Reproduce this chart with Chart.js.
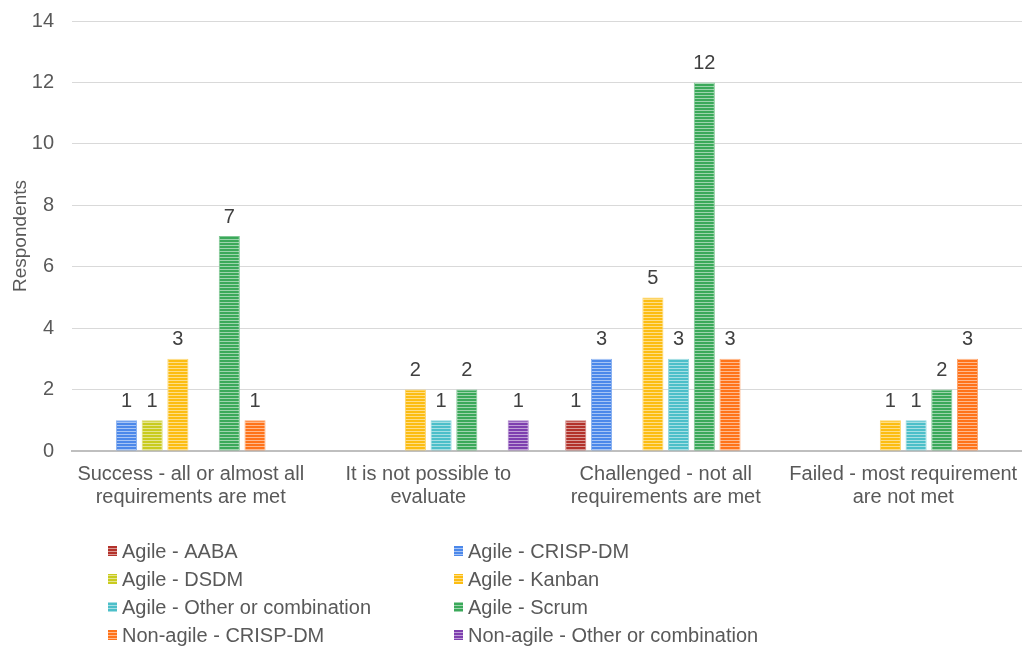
<!DOCTYPE html>
<html>
<head>
<meta charset="utf-8">
<script src="https://cdn.jsdelivr.net/npm/chart.js@4/dist/chart.umd.min.js"></script>
<style>
html,body{margin:0;padding:0;background:#fff;}
#wrap{width:1022px;height:647px;position:relative;}
</style>
</head>
<body>
<div id="wrap"><canvas id="c" width="1022" height="647"></canvas></div>
<script>
const categories = [
  ["Success - all or almost all", "requirements are met"],
  ["It is not possible to", "evaluate"],
  ["Challenged - not all", "requirements are met"],
  ["Failed - most requirement", "are not met"]
];
const seriesNames = [
  "Agile - AABA", "Agile - CRISP-DM", "Agile - DSDM", "Agile - Kanban",
  "Agile - Other or combination", "Agile - Scrum", "Non-agile - CRISP-DM",
  "Non-agile - Other or combination"
];
const agileAABA      = [0, 0, 1, 0];
const agileCRISPDM   = [1, 0, 3, 0];
const agileDSDM      = [1, 0, 0, 0];
const agileKanban    = [3, 2, 5, 1];
const agileOther     = [0, 1, 3, 1];
const agileScrum     = [7, 2, 12, 2];
const nonAgileCRISP  = [1, 0, 3, 3];
const nonAgileOther  = [0, 1, 0, 0];
const seriesValues = [agileAABA, agileCRISPDM, agileDSDM, agileKanban, agileOther, agileScrum, nonAgileCRISP, nonAgileOther];
const seriesColors = ["#B3322B", "#4C88EA", "#C9CB1F", "#FCBD12", "#4CBFC9", "#3BA95A", "#FF731A", "#7E3FAF"];
const yTicks = [0, 2, 4, 6, 8, 10, 12, 14];

function mixWhite(hex, t) {
  const n = parseInt(hex.slice(1), 16);
  const r = (n >> 16) & 255, g = (n >> 8) & 255, b = n & 255;
  const m = v => Math.round(v + (255 - v) * t);
  return `rgb(${m(r)},${m(g)},${m(b)})`;
}
function stripePattern(hex) {
  const pc = document.createElement('canvas');
  pc.width = 4; pc.height = 3;
  const p = pc.getContext('2d');
  p.fillStyle = hex; p.fillRect(0, 0, 4, 3);
  p.fillStyle = mixWhite(hex, 0.5); p.fillRect(0, 2, 4, 1);
  return document.getElementById('c').getContext('2d').createPattern(pc, 'repeat');
}

const FONT = "'Liberation Sans', Arial, sans-serif";
const TEXT = '#595959';

const datasets = seriesNames.map((name, i) => ({
  label: name,
  data: seriesValues[i],
  backgroundColor: stripePattern(seriesColors[i]),
  borderColor: mixWhite(seriesColors[i], 0.35),
  borderWidth: 1,
  categoryPercentage: 0.866,
  barPercentage: 0.82
}));

const valueLabels = {
  id: 'valueLabels',
  afterDatasetsDraw(chart) {
    const ctx = chart.ctx;
    ctx.save();
    ctx.font = `20px ${FONT}`;
    ctx.fillStyle = '#404040';
    ctx.textAlign = 'center';
    ctx.textBaseline = 'middle';
    chart.data.datasets.forEach((ds, di) => {
      const meta = chart.getDatasetMeta(di);
      meta.data.forEach((bar, j) => {
        const v = ds.data[j];
        if (!v) return;
        ctx.fillText(String(v), bar.x, bar.y - 19);
      });
    });
    ctx.restore();
  }
};

const gridLegend = {
  id: 'gridLegend',
  afterDraw(chart) {
    const ctx = chart.ctx;
    ctx.save();
    ctx.font = `20px ${FONT}`;
    ctx.fillStyle = TEXT;
    ctx.textBaseline = 'middle';
    ctx.textAlign = 'left';
    const colX = [108, 454];
    const y0 = 551, dy = 28;
    chart.data.datasets.forEach((ds, i) => {
      const x = colX[i % 2];
      const y = y0 + Math.floor(i / 2) * dy;
      ctx.fillStyle = ds.backgroundColor;
      ctx.fillRect(x, y - 5, 9, 10);
      ctx.fillStyle = TEXT;
      ctx.fillText(ds.label, x + 14, y + 1);
    });
    ctx.restore();
  }
};

new Chart(document.getElementById('c'), {
  type: 'bar',
  data: { labels: categories, datasets },
  options: {
    responsive: false,
    animation: false,
    devicePixelRatio: 1,
    layout: { padding: { left: 5, right: 0, top: 21, bottom: 126 } },
    plugins: { legend: { display: false }, tooltip: { enabled: false } },
    scales: {
      x: {
        grid: { display: false, drawTicks: false },
        border: { display: true, color: '#BFBFBF', width: 2 },
        ticks: { color: TEXT, font: { family: FONT, size: 20, lineHeight: 23 / 20 }, padding: 12, maxRotation: 0, autoSkip: false },
        afterFit(axis) { axis.paddingLeft = 0; axis.paddingRight = 0; }
      },
      y: {
        min: 0, max: 14,
        afterBuildTicks(axis) { axis.ticks = yTicks.map(v => ({ value: v })); },
        grid: { color: '#D9D9D9', lineWidth: 1, drawTicks: false },
        border: { display: false },
        ticks: { color: TEXT, font: { family: FONT, size: 20 }, padding: 18 },
        title: { display: true, text: 'Respondents', color: TEXT, font: { family: FONT, size: 19 }, padding: { top: 4, bottom: 4 } },
        afterFit(axis) { axis.width = 67; axis.paddingTop = 0; axis.paddingBottom = 0; }
      }
    }
  },
  plugins: [valueLabels, gridLegend]
});
</script>
</body>
</html>
